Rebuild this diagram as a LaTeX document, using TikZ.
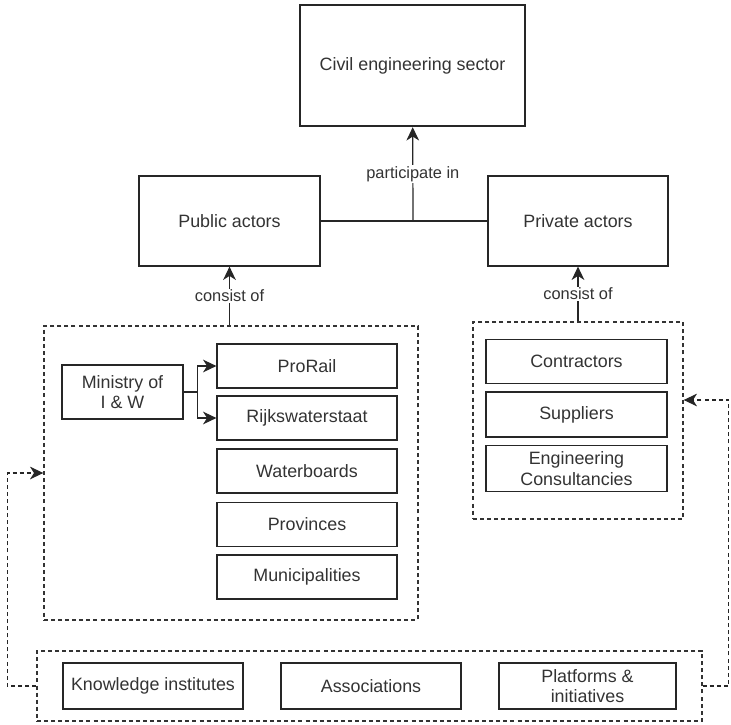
\documentclass[tikz,border=0pt]{standalone}
\usepackage{fontspec}
\setmainfont{Liberation Sans}
\usetikzlibrary{arrows.meta, calc}

\begin{document}
\begin{tikzpicture}[x=0.75pt, y=-0.75pt,
    sz/.style 2 args={minimum width=#1*0.75pt, minimum height=#2*0.75pt},
    box/.style={draw=black!85, line width=0.9pt, inner sep=0pt, align=center,
        text=black!80, font=\fontsize{13.4}{15.5}\selectfont},
    grp/.style={draw=black!80, dash pattern=on 3pt off 2.3pt, line width=1pt, inner sep=0pt},
    lbl/.style={fill=white, inner sep=1pt, text=black!80, font=\fontsize{12.3}{14}\selectfont},
    arr/.style={-{Stealth[length=10pt,width=9.5pt,inset=3pt]}, line width=0.9pt, draw=black!85},
    fb/.style={arr, dash pattern=on 3pt off 2.3pt}]
    \useasboundingbox (0,0) rectangle (731,724);

    % top level
    \node[box, line width=1.8pt, sz={225}{121}] (civil) at (412.5,65.5) {Civil engineering sector};
    \node[box, sz={181}{90}] (public) at (229.5,221) {Public actors};
    \node[box, sz={180}{90}] (private) at (578,221) {Private actors};
    \coordinate (join) at (413,221);

    \draw[line width=0.9pt, draw=black!85] (public) -- (private);
    \draw[arr] (join) -- node[lbl] {participate in} (civil);

    % public side
    \node[grp, sz={374}{294}] (pubgroup) at (231,473) {};
    \node[box, sz={121}{54}] (ministry) at (122.5,392) {Ministry of\\I \& W};
    \node[box, sz={180}{44}] (prorail) at (307,366) {ProRail};
    \node[box, sz={180}{44}] (rws) at (307,418) {Rijkswaterstaat};
    \node[box, sz={180}{44}] (waterb) at (307,471) {Waterboards};
    \node[box, sz={180}{44}] (prov) at (307,524.5) {Provinces};
    \node[box, sz={180}{44}] (munic) at (307,577) {Municipalities};

    \draw[arr] (ministry.east) -- ++(14,0) |- (prorail.west);
    \draw[arr] (ministry.east) -- ++(14,0) |- (rws.west);
    \draw[arr] (public.south |- pubgroup.north) -- node[lbl] {consist of} (public.south);

    % private side
    \node[grp, sz={210}{197}] (privgroup) at (578,420.5) {};
    \node[box, sz={181}{44}] (contr) at (576.5,361.5) {Contractors};
    \node[box, sz={181}{45}] (suppl) at (576.5,414.5) {Suppliers};
    \node[box, sz={181}{46}] (consult) at (576.5,468.5) {Engineering\\Consultancies};

    \draw[arr] (private.south |- privgroup.north) -- node[lbl] {consist of} (private.south);

    % supporting organisations
    \node[grp, sz={665}{70}] (support) at (369.5,686) {};
    \node[box, sz={180}{46}] (knowl) at (153,686) {Knowledge institutes};
    \node[box, sz={180}{46}] (assoc) at (371,686) {Associations};
    \node[box, sz={177}{46}] (platf) at (587.5,686) {Platforms \&\\initiatives};

    \draw[fb] (support.west) -- ++(-29,0) |- (pubgroup.west);
    \draw[fb] (support.east) -- ++(26,0) |- ($(privgroup.east)+(0,-20.5)$);
\end{tikzpicture}
\end{document}
